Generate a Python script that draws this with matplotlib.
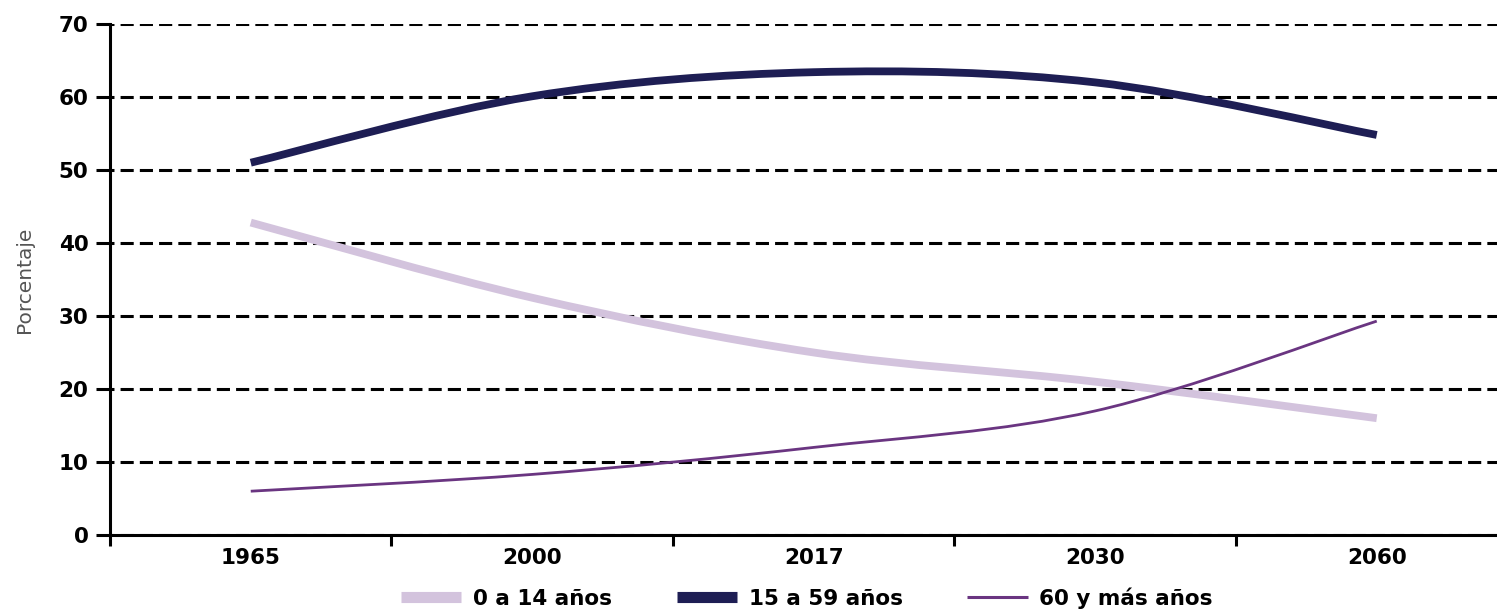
import matplotlib
matplotlib.use("Agg")
import matplotlib.pyplot as plt
from matplotlib.path import Path
from matplotlib.patches import PathPatch
from matplotlib.lines import Line2D

# data
years = ["1965", "2000", "2017", "2030", "2060"]
ninos = [42.8, 32.5, 25.0, 21.0, 16.0]        # 0 a 14 años
adultos = [51.0, 60.1, 63.4, 62.0, 54.8]      # 15 a 59 años
mayores = [6.0, 8.3, 12.0, 17.0, 29.3]        # 60 y más años
labels = ["0 a 14 años", "15 a 59 años", "60 y más años"]
yticks = [0, 10, 20, 30, 40, 50, 60, 70]

c_light = "#D3C3DD"
c_dark = "#1E1E54"
c_thin = "#6A3581"

plt.rcParams['font.family'] = ['DejaVu Sans']


def smooth_path(ys):
    # excel-style smoothed line: bezier segments through the data points
    xs = list(range(len(ys)))
    pts = list(zip(xs, ys))
    verts = [pts[0]]
    codes = [Path.MOVETO]
    n = len(pts)
    for i in range(n - 1):
        p0 = pts[max(i - 1, 0)]
        p1 = pts[i]
        p2 = pts[i + 1]
        p3 = pts[min(i + 2, n - 1)]
        c1 = (p1[0] + (p2[0] - p0[0]) / 6, p1[1] + (p2[1] - p0[1]) / 6)
        c2 = (p2[0] - (p3[0] - p1[0]) / 6, p2[1] - (p3[1] - p1[1]) / 6)
        verts += [c1, c2, p2]
        codes += [Path.CURVE4] * 3
    return Path(verts, codes)


fig = plt.figure(figsize=(14.97, 6.10), dpi=100)
ax = fig.add_axes([110 / 1497, 75 / 610, 1407.5 / 1497, 511 / 610])

ax.set_xlim(-0.5, 4.5)
ax.set_ylim(0, 70)

for ys, col, lw in [(ninos, c_light, 5.6), (adultos, c_dark, 5.6), (mayores, c_thin, 2.0)]:
    ax.add_patch(PathPatch(smooth_path(ys), facecolor="none", edgecolor=col,
                           lw=lw, capstyle="butt", joinstyle="round", zorder=3))

# grid
ax.set_yticks(yticks)
ax.yaxis.grid(True, color="black", lw=2.2, linestyle=(3.0, (4.3, 2.0)))
ax.set_axisbelow(True)

# spines
for s in ["top", "right"]:
    ax.spines[s].set_visible(False)
for s in ["left", "bottom"]:
    ax.spines[s].set_linewidth(2.2)
    ax.spines[s].set_zorder(4)

# x: tick marks between categories, labels at the centres
ax.set_xticks([k - 0.5 for k in range(len(years) + 1)])
ax.set_xticklabels([])
ax.set_xticks(range(len(years)), minor=True)
ax.set_xticklabels(years, minor=True)
ax.tick_params(axis="x", which="major", direction="out", length=8, width=2.2)
ax.tick_params(axis="x", which="minor", length=0, pad=9)
ax.tick_params(axis="y", direction="out", length=10, width=2.2, pad=5.5)
for lab in ax.get_xticklabels(minor=True) + ax.get_yticklabels():
    lab.set_fontsize(15.5)
    lab.set_fontweight("bold")

ax.set_ylabel("Porcentaje", fontsize=14.5, color="#555555")
ax.yaxis.set_label_coords(-0.054, 0.5)

handles = [
    Line2D([], [], color=c_light, lw=8, solid_capstyle="butt"),
    Line2D([], [], color=c_dark, lw=8, solid_capstyle="butt"),
    Line2D([], [], color=c_thin, lw=2.2, solid_capstyle="butt"),
]
fig.legend(handles, labels, loc="center", bbox_to_anchor=(0.539, 0.02), ncol=3,
           frameon=False, borderpad=0, handlelength=2.8, handletextpad=0.55,
           columnspacing=3.0, prop={"size": 15.5, "weight": "bold"})

fig.savefig("out.png", dpi=100)
